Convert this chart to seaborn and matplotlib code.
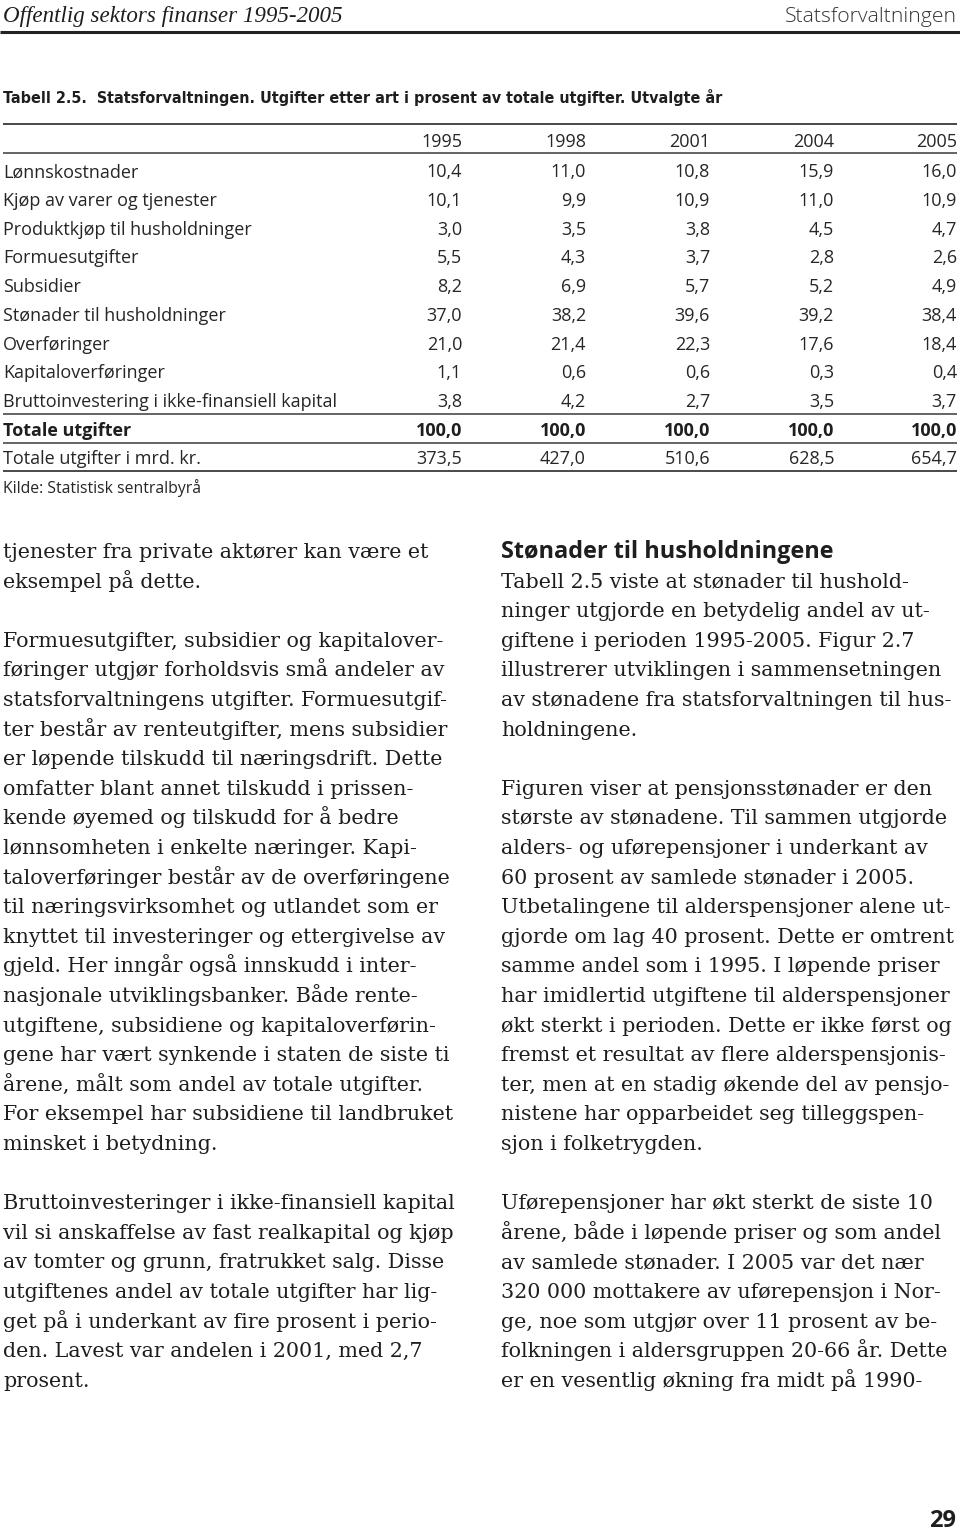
import matplotlib
matplotlib.use("Agg")
import matplotlib.pyplot as plt
import seaborn as sns

sns.set_theme(style="white")
plt.rcParams['font.family'] = ['Open Sans', 'DejaVu Sans']

# ---------------- data ----------------
years = ["1995", "1998", "2001", "2004", "2005"]
categories = [
    "Lønnskostnader",
    "Kjøp av varer og tjenester",
    "Produktkjøp til husholdninger",
    "Formuesutgifter",
    "Subsidier",
    "Stønader til husholdninger",
    "Overføringer",
    "Kapitaloverføringer",
    "Bruttoinvestering i ikke-finansiell kapital",
]
v1995 = [10.4, 10.1, 3.0, 5.5, 8.2, 37.0, 21.0, 1.1, 3.8]
v1998 = [11.0, 9.9, 3.5, 4.3, 6.9, 38.2, 21.4, 0.6, 4.2]
v2001 = [10.8, 10.9, 3.8, 3.7, 5.7, 39.6, 22.3, 0.6, 2.7]
v2004 = [15.9, 11.0, 4.5, 2.8, 5.2, 39.2, 17.6, 0.3, 3.5]
v2005 = [16.0, 10.9, 4.7, 2.6, 4.9, 38.4, 18.4, 0.4, 3.7]
total_label = "Totale utgifter"
total_pct = [100.0, 100.0, 100.0, 100.0, 100.0]
mrd_label = "Totale utgifter i mrd. kr."
total_mrd = [373.5, 427.0, 510.6, 628.5, 654.7]
source = "Kilde: Statistisk sentralbyrå"

page_header_left = "Offentlig sektors finanser 1995-2005"
page_header_right = "Statsforvaltningen"
table_title = "Tabell 2.5.  Statsforvaltningen. Utgifter etter art i prosent av totale utgifter. Utvalgte år"
page_number = "29"

left_text = [
    "tjenester fra private aktører kan være et",
    "eksempel på dette.",
    "",
    "Formuesutgifter, subsidier og kapitalover-",
    "føringer utgjør forholdsvis små andeler av",
    "statsforvaltningens utgifter. Formuesutgif-",
    "ter består av renteutgifter, mens subsidier",
    "er løpende tilskudd til næringsdrift. Dette",
    "omfatter blant annet tilskudd i prissen-",
    "kende øyemed og tilskudd for å bedre",
    "lønnsomheten i enkelte næringer. Kapi-",
    "taloverføringer består av de overføringene",
    "til næringsvirksomhet og utlandet som er",
    "knyttet til investeringer og ettergivelse av",
    "gjeld. Her inngår også innskudd i inter-",
    "nasjonale utviklingsbanker. Både rente-",
    "utgiftene, subsidiene og kapitaloverførin-",
    "gene har vært synkende i staten de siste ti",
    "årene, målt som andel av totale utgifter.",
    "For eksempel har subsidiene til landbruket",
    "minsket i betydning.",
    "",
    "Bruttoinvesteringer i ikke-finansiell kapital",
    "vil si anskaffelse av fast realkapital og kjøp",
    "av tomter og grunn, fratrukket salg. Disse",
    "utgiftenes andel av totale utgifter har lig-",
    "get på i underkant av fire prosent i perio-",
    "den. Lavest var andelen i 2001, med 2,7",
    "prosent.",
]
right_heading = "Stønader til husholdningene"
right_text = [
    "",
    "Tabell 2.5 viste at stønader til hushold-",
    "ninger utgjorde en betydelig andel av ut-",
    "giftene i perioden 1995-2005. Figur 2.7",
    "illustrerer utviklingen i sammensetningen",
    "av stønadene fra statsforvaltningen til hus-",
    "holdningene.",
    "",
    "Figuren viser at pensjonsstønader er den",
    "største av stønadene. Til sammen utgjorde",
    "alders- og uførepensjoner i underkant av",
    "60 prosent av samlede stønader i 2005.",
    "Utbetalingene til alderspensjoner alene ut-",
    "gjorde om lag 40 prosent. Dette er omtrent",
    "samme andel som i 1995. I løpende priser",
    "har imidlertid utgiftene til alderspensjoner",
    "økt sterkt i perioden. Dette er ikke først og",
    "fremst et resultat av flere alderspensjonis-",
    "ter, men at en stadig økende del av pensjo-",
    "nistene har opparbeidet seg tilleggspen-",
    "sjon i folketrygden.",
    "",
    "Uførepensjoner har økt sterkt de siste 10",
    "årene, både i løpende priser og som andel",
    "av samlede stønader. I 2005 var det nær",
    "320 000 mottakere av uførepensjon i Nor-",
    "ge, noe som utgjør over 11 prosent av be-",
    "folkningen i aldersgruppen 20-66 år. Dette",
    "er en vesentlig økning fra midt på 1990-",
]

# ---------------- layout ----------------
W, H = 960, 1530
fig = plt.figure(figsize=(W / 100, H / 100), dpi=100)
ax = fig.add_axes([0, 0, 1, 1])
ax.set_xlim(0, W)
ax.set_ylim(H, 0)
ax.axis("off")

ink = "#1e1e1e"
tink = "#262626"
rule = "#3a3a3a"


def fmt(v):
    return f"{v:.1f}".replace(".", ",")


# page header
ax.text(3, 22, page_header_left, fontsize=16.6, family="Liberation Serif",
        style="italic", color=ink, va="baseline", ha="left")
ax.text(957, 22, page_header_right, fontsize=15.2, color="#333333",
        va="baseline", ha="right", fontweight="light")
ax.plot([0, W], [31.5, 31.5], color="#222222", lw=2.2, solid_capstyle="butt")

# table title
ax.text(3, 103, table_title, fontsize=11.5, family=["DejaVu Sans"], fontstretch="condensed",
        fontweight="bold", color=ink, va="baseline", ha="left")

# table
tfs = 13.0
col_x = [462, 586, 710, 834, 957]
header_base = 147
row_base0 = 177.3
row_step = 28.7
columns = [v1995, v1998, v2001, v2004, v2005]
tw = "normal"

for yr, cx in zip(years, col_x):
    ax.text(cx, header_base, yr, fontsize=tfs, color=tink, ha="right", va="baseline",
            fontweight=tw)

for i, cat in enumerate(categories):
    yb = row_base0 + i * row_step
    ax.text(3, yb, cat, fontsize=tfs, color=tink, ha="left", va="baseline", fontweight=tw)
    for col, cx in zip(columns, col_x):
        ax.text(cx, yb, fmt(col[i]), fontsize=tfs, color=tink, ha="right", va="baseline",
                fontweight=tw)

yb_tot = row_base0 + len(categories) * row_step
ax.text(3, yb_tot, total_label, fontsize=tfs, color=ink, ha="left", va="baseline",
        fontweight="bold")
for v, cx in zip(total_pct, col_x):
    ax.text(cx, yb_tot, fmt(v), fontsize=tfs, color=ink, ha="right", va="baseline",
            fontweight="bold")

yb_mrd = yb_tot + row_step
ax.text(3, yb_mrd, mrd_label, fontsize=tfs, color=tink, ha="left", va="baseline",
        fontweight=tw)
for v, cx in zip(total_mrd, col_x):
    ax.text(cx, yb_mrd, fmt(v), fontsize=tfs, color=tink, ha="right", va="baseline",
            fontweight=tw)

ax.text(3, 493, source, fontsize=11.3, color=tink, ha="left", va="baseline",
        fontweight=tw)

for yy, lw in [(124, 1.3), (153, 1.1), (414, 1.1), (443, 1.1), (471, 1.3)]:
    ax.plot([3, 957], [yy, yy], color=rule, lw=lw, solid_capstyle="butt")

# body text
bfs = 14.9
base0 = 558
step = 29.6
for k, line in enumerate(left_text):
    if line:
        ax.text(3, base0 + k * step, line, fontsize=bfs, family="DejaVu Serif",
                color=ink, ha="left", va="baseline")

ax.text(501, base0, right_heading, fontsize=16.9, fontweight="bold", color=ink,
        ha="left", va="baseline")
for k, line in enumerate(right_text):
    if line:
        ax.text(501, base0 + k * step, line, fontsize=bfs, family="DejaVu Serif",
                color=ink, ha="left", va="baseline")

ax.text(956, 1527, page_number, fontsize=17, fontweight="bold", color=ink,
        ha="right", va="baseline")

fig.savefig("out.png", dpi=100, facecolor="white")
